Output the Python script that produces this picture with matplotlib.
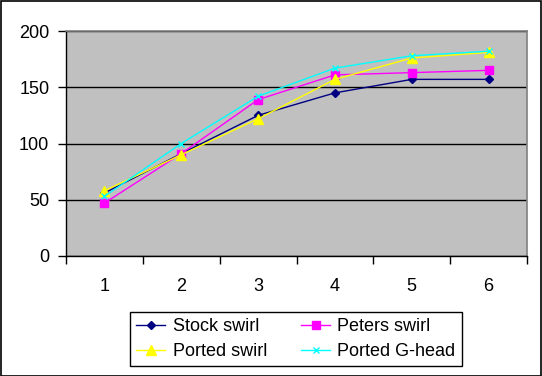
import matplotlib

matplotlib.use("Agg")
import matplotlib.pyplot as plt
import numpy as np

plt.rcParams["font.family"] = ["Liberation Sans", "DejaVu Sans"]

# data
categories = ["1", "2", "3", "4", "5", "6"]
stock_swirl = [56, 91, 125, 145, 157, 157]
peters_swirl = [47, 91, 139, 161, 163, 165]
ported_swirl = [58, 90, 122, 157, 176, 181]
ported_ghead = [53, 100, 142, 167, 178, 182]

fig = plt.figure(figsize=(5.42, 3.76), dpi=100)
fig.patch.set_facecolor("white")
fig.patches.append(plt.Rectangle((0.001, 0.001), 0.997, 0.996, transform=fig.transFigure,
                                 fill=False, edgecolor="black", linewidth=1.2))

ax = fig.add_axes([66 / 542, (376 - 256) / 376, (527 - 66) / 542, (256 - 31) / 376])
ax.set_facecolor("#C0C0C0")

x = np.arange(len(categories))
h1, = ax.plot(x, stock_swirl, color="#000080", marker="D", markersize=4.5, linewidth=1,
              label="Stock swirl")
h2, = ax.plot(x, peters_swirl, color="#FF00FF", marker="s", markersize=5.5, linewidth=1,
              label="Peters swirl")
h3, = ax.plot(x, ported_swirl, color="#FFFF00", marker="^", markersize=6.5, linewidth=1,
              label="Ported swirl")
h4, = ax.plot(x, ported_ghead, color="#00FFFF", marker="x", markersize=5, linewidth=1,
              markeredgewidth=1, label="Ported G-head")

ax.set_xlim(-0.5, len(categories) - 0.5)
ax.set_ylim(0, 200)
ax.set_yticks([0, 50, 100, 150, 200])
ax.yaxis.grid(True, color="black", linewidth=1)
ax.set_axisbelow(True)

ax.set_xticks(x)
ax.set_xticklabels(categories)
ax.set_xticks(np.arange(-0.5, len(categories)), minor=True)
ax.tick_params(axis="x", which="major", length=0, pad=16, labelsize=13)
ax.tick_params(axis="x", which="minor", length=6, width=1, direction="out")
ax.tick_params(axis="y", length=6, width=1, direction="out", pad=6, labelsize=13)

for side in ["top", "right"]:
    ax.spines[side].set_color("#808080")
    ax.spines[side].set_linewidth(1.2)
for side in ["left", "bottom"]:
    ax.spines[side].set_color("black")
    ax.spines[side].set_linewidth(1)

# column-first fill, so order gives rows: Stock/Peters, Ported/G-head
leg = fig.legend([h1, h3, h2, h4], [h1.get_label(), h3.get_label(), h2.get_label(), h4.get_label()],
                 loc="center", bbox_to_anchor=(296 / 542, 1 - 339 / 376), ncol=2,
                 fontsize=13, frameon=True, fancybox=False, edgecolor="black",
                 handlelength=1.6, handletextpad=0.4, columnspacing=1.9,
                 labelspacing=0.45, borderpad=0.35, framealpha=1)
leg.get_frame().set_linewidth(1)

fig.savefig("out.png", dpi=100)
